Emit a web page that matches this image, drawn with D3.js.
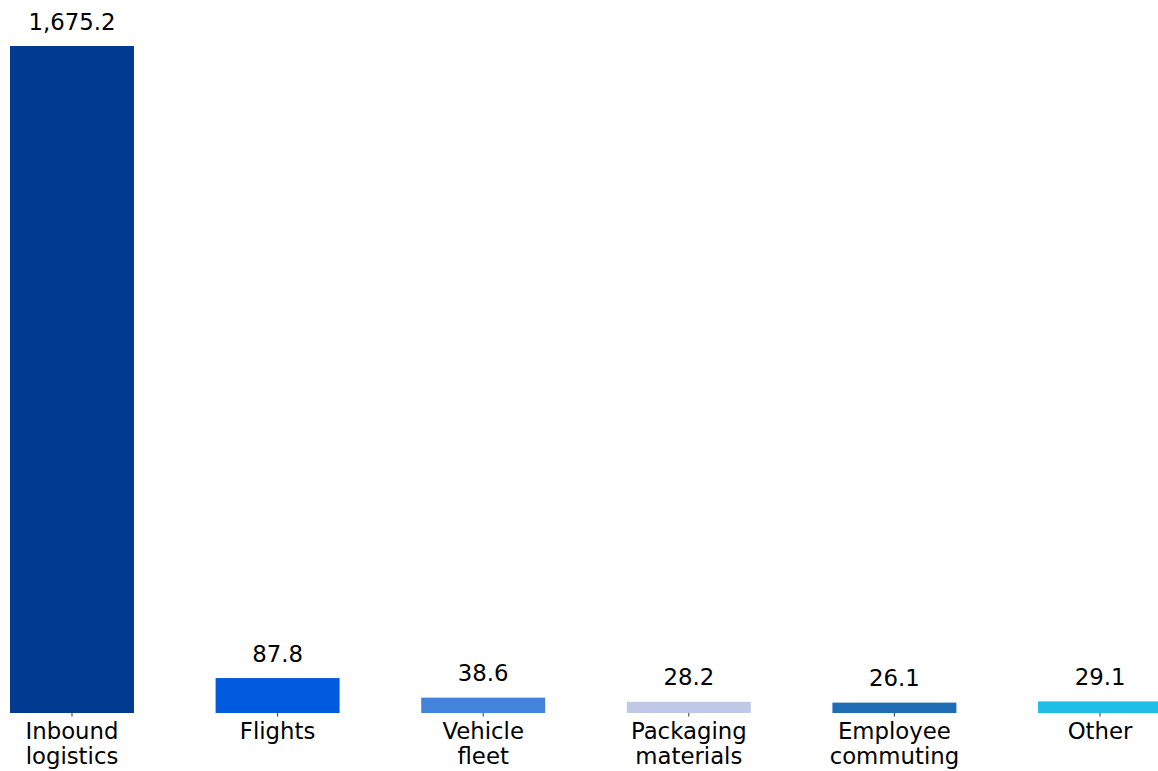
<!DOCTYPE html>
<html>
<head>
<meta charset="utf-8">
<script src="https://cdn.jsdelivr.net/npm/d3@7"></script>
<style>
  html, body { margin: 0; padding: 0; background: #fff; }
  svg { display: block; font-family: "DejaVu Sans", sans-serif; }
</style>
</head>
<body>
<svg id="chart" width="1158" height="771"></svg>
<script>
const categories = ["Inbound logistics", "Flights", "Vehicle fleet", "Packaging materials", "Employee commuting", "Other"];
const categoryLines = [["Inbound", "logistics"], ["Flights"], ["Vehicle", "fleet"], ["Packaging", "materials"], ["Employee", "commuting"], ["Other"]];
const values = [1675.2, 87.8, 38.6, 28.2, 26.1, 29.1];
const colors = ["#003b8f", "#005ade", "#4283dc", "#bfc8e6", "#1f6db4", "#20bde6"];

const svg = d3.select("#chart");
const baseY = 713, topY = 46;

const x = d3.scaleBand()
  .domain(categories)
  .range([10, 1162])
  .paddingInner(0.397)
  .paddingOuter(0);

const y = d3.scaleLinear()
  .domain([0, values[0]])
  .range([baseY, topY]);

const fmt = d3.format(",.1f");

svg.selectAll("rect.bar")
  .data(categories)
  .enter().append("rect")
  .attr("class", "bar")
  .attr("x", d => x(d))
  .attr("width", x.bandwidth())
  .attr("y", (d, i) => y(values[i]))
  .attr("height", (d, i) => baseY - y(values[i]))
  .attr("fill", (d, i) => colors[i]);

svg.selectAll("text.val")
  .data(categories)
  .enter().append("text")
  .attr("class", "val")
  .attr("x", d => x(d) + x.bandwidth() / 2)
  .attr("y", (d, i) => y(values[i]) - 16.5)
  .attr("text-anchor", "middle")
  .attr("font-size", 22.8)
  .attr("fill", "#000")
  .text((d, i) => fmt(values[i]));

// x axis ticks and labels
const axis = d3.axisBottom(x).tickSize(3.5).tickSizeOuter(0).tickFormat("");
const ag = svg.append("g").attr("transform", `translate(0,${baseY})`).call(axis);
ag.select(".domain").remove();
ag.selectAll(".tick line").attr("stroke", "#333").attr("stroke-width", 1);

const lab = svg.selectAll("text.cat")
  .data(categories)
  .enter().append("text")
  .attr("class", "cat")
  .attr("x", d => x(d) + x.bandwidth() / 2)
  .attr("y", 738.5)
  .attr("text-anchor", "middle")
  .attr("font-size", 22.8)
  .attr("fill", "#000");

lab.each(function(d, i) {
  const t = d3.select(this);
  categoryLines[i].forEach((line, j) => {
    t.append("tspan")
      .attr("x", x(d) + x.bandwidth() / 2)
      .attr("dy", j === 0 ? 0 : 25.5)
      .text(line);
  });
});
</script>
</body>
</html>
